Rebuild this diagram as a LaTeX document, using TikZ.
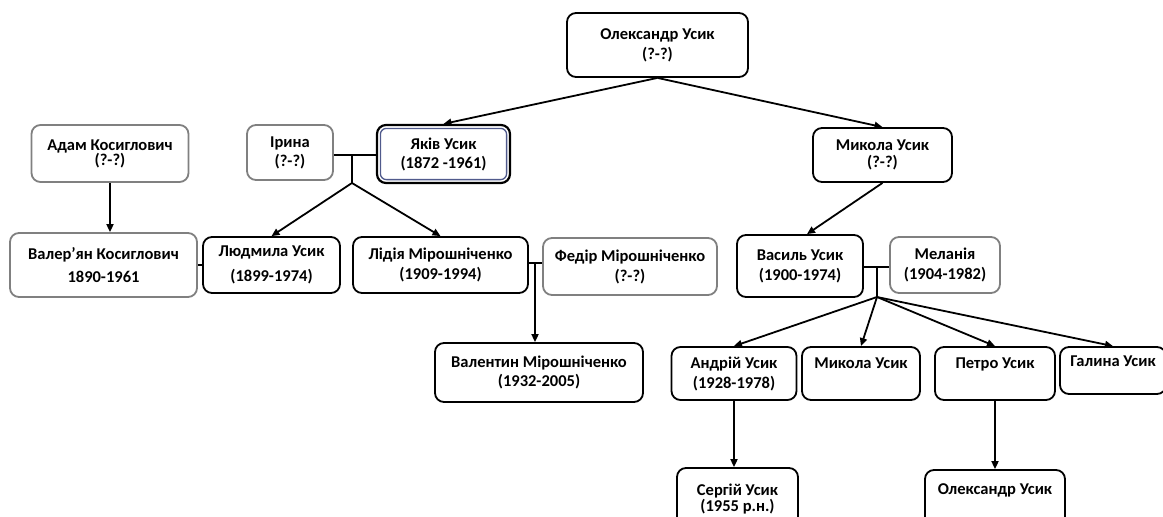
\documentclass[tikz,border=0pt]{standalone}
\usepackage{fontspec}
\setmainfont{Carlito}
\usetikzlibrary{arrows.meta}
\definecolor{boxgrey}{RGB}{128,128,128}
\definecolor{slateblue4}{RGB}{80,90,140}

\begin{document}
\begin{tikzpicture}
  [x=1pt,y=-1pt,
   every node/.style={rectangle,rounded corners=9pt,line width=1.8pt,align=center,inner sep=0pt,
     font=\fontsize{16.5}{18}\selectfont\bfseries},
   person/.style={draw=black},
   inlaw/.style={draw=boxgrey},
   link/.style={line width=1.8pt},
   child/.style={link,-{Triangle[length=8pt,width=7pt]}}]
  \useasboundingbox (0,0) rectangle (1163,517);
  % generation 1
  \node[person,minimum width=181pt,minimum height=64pt] (olek) at (657.5,45) {Олександр Усик\\[2pt](?-?)};
  % generation 2
  \node[inlaw,minimum width=86pt,minimum height=55pt] (iryna) at (290,152.5) {Ірина\\[1pt](?-?)};
  \node[person,line width=2.2pt,minimum width=133pt,minimum height=58pt] (jakiv) at (443.5,154) {Яків Усик\\[1pt](1872 -1961)};
  \node[person,minimum width=139pt,minimum height=54pt] (mykola) at (882.5,155) {Микола Усик\\[-1pt](?-?)};
  \node[inlaw,minimum width=157pt,minimum height=57pt] (adam) at (110,153.5) {Адам Косиглович\\[-3pt](?-?)};
  \draw[slateblue4,line width=1.3pt,rounded corners=6pt]
    ([xshift=4.5pt,yshift=-4.5pt]jakiv.north west) rectangle ([xshift=-4.5pt,yshift=4.5pt]jakiv.south east);
  % generation 3
  \node[inlaw,minimum width=187pt,minimum height=64pt] (valer) at (103.5,265) {Валер'ян Косиглович\\[5pt]1890-1961};
  \node[person,minimum width=137pt,minimum height=56pt] (ljud) at (271.5,265) {Людмила Усик\\[7pt](1899-1974)};
  \node[person,minimum width=175pt,minimum height=56pt] (lidia) at (440.5,265) {Лідія Мірошніченко\\[2pt](1909-1994)};
  \node[inlaw,minimum width=174pt,minimum height=57pt] (fedir) at (630,266.5) {Федір Мірошніченко\\[2pt](?-?)};
  \node[person,minimum width=126pt,minimum height=62pt] (vasyl) at (800,266) {Василь Усик\\[2pt](1900-1974)};
  \node[inlaw,minimum width=110pt,minimum height=56pt] (melan) at (945,265) {Меланія\\[2pt](1904-1982)};
  % generation 4
  \node[person,minimum width=208pt,minimum height=59pt] (valent) at (539,372.5) {Валентин Мірошніченко\\[1pt](1932-2005)};
  \node[person,minimum width=125pt,minimum height=53pt] (andrij) at (734,373.5) {Андрій Усик\\[2pt](1928-1978)};
  \node[person,minimum width=118pt,minimum height=53pt] (mykola2) at (861,373.5) {Микола Усик\\[2pt]\mbox{}};
  \node[person,minimum width=120pt,minimum height=53pt] (petro) at (995,373.5) {Петро Усик\\[2pt]\mbox{}};
  \node[person,minimum width=106pt,minimum height=47pt] (halyna) at (1113,370.5) {Галина Усик\\[0pt]\mbox{}};
  % generation 5
  \node[person,minimum width=121pt,minimum height=62pt] (serhij) at (737.5,499) {Сергій Усик\\[-2pt](1955 р.н.)};
  \node[person,minimum width=140pt,minimum height=60pt] (olek2) at (995,500) {Олександр Усик\\[4pt]\mbox{}};
  % couples
  \coordinate (m1) at (352,155);
  \coordinate (b1) at (352,183);
  \coordinate (m2) at (535,263);
  \coordinate (m3) at (877,267);
  \coordinate (b3) at (877,297);
  \draw[link] (iryna.east |- m1) -- (jakiv.west |- m1);
  \draw[link] (m1) -- (b1);
  \draw[link] (valer.east) -- (ljud.west);
  \draw[link] (lidia.east |- m2) -- (fedir.west |- m2);
  \draw[link] (vasyl.east |- m3) -- (melan.west |- m3);
  \draw[link] (m3) -- (b3);
  % descent
  \draw[child] (olek.south) -- (jakiv.north);
  \draw[child] (olek.south) -- (mykola.north);
  \draw[child] (mykola.south) -- ([xshift=7pt]vasyl.north);
  \draw[child] (adam.south) -- (adam.south |- valer.north);
  \draw[child] (m2) -- (m2 |- valent.north);
  \foreach \to in {ljud,lidia}
    \draw[child] (b1) -- (\to.north);
  \foreach \to in {andrij,mykola2,petro,halyna}
    \draw[child] (b3) -- (\to.north);
  \draw[child] (andrij.south) -- (andrij.south |- serhij.north);
  \draw[child] (petro.south) -- (petro.south |- olek2.north);
\end{tikzpicture}
\end{document}
